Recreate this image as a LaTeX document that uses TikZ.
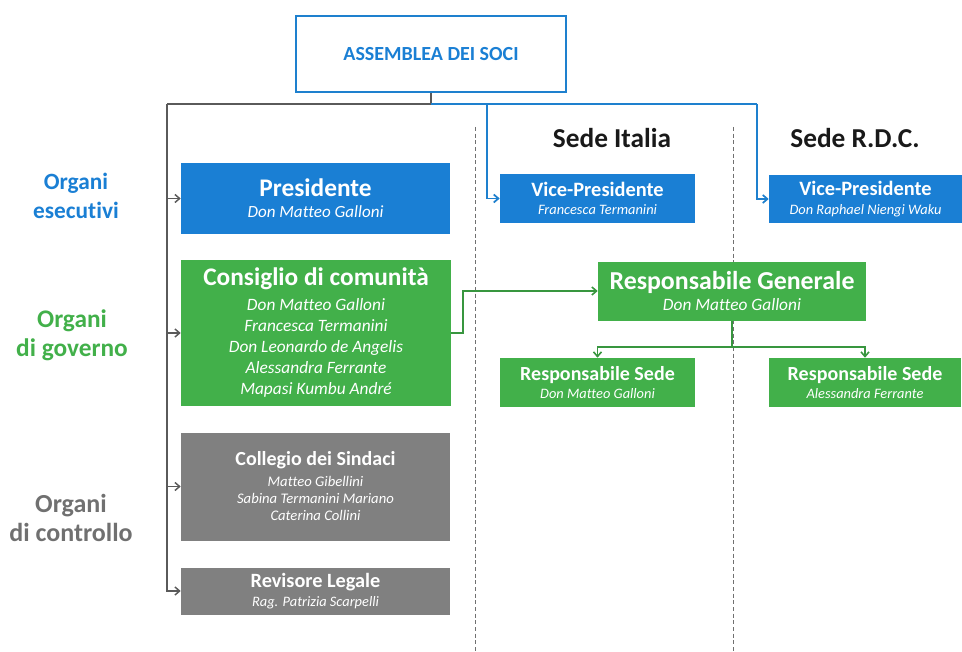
\documentclass[tikz,border=0pt]{standalone}
\usepackage{fontspec}
\setmainfont{Carlito}[Ligatures={TeX,NoCommon}]
\usepackage{xcolor}
\usepackage{tikz}
\usetikzlibrary{arrows.meta}

\definecolor{bluefill}{RGB}{26,127,212}
\definecolor{blueline}{RGB}{30,128,206}
\definecolor{greenfill}{RGB}{66,176,74}
\definecolor{grayfill}{RGB}{128,128,128}
\definecolor{grayline}{RGB}{90,90,90}
\definecolor{graytext}{RGB}{112,112,112}

\newcommand{\fsz}[2]{\fontsize{#1}{#2}\selectfont}
\newcommand{\boxtitle}[2]{{\fontsize{#1}{#1}\selectfont\bfseries\upshape #2}}

\begin{document}
\begin{tikzpicture}[
      x=0.75pt, y=-0.75pt,
      box/.style={
        rectangle,
        inner sep=0pt,
        align=center,
        text=white
      },
      bluebox/.style={box, fill=bluefill},
      greenbox/.style={box, fill=greenfill},
      graybox/.style={box, fill=grayfill},
      grayarrow/.style={draw=grayline, line width=1.1pt, -{Straight Barb[length=3.5pt,width=6pt]}},
      bluearrow/.style={draw=blueline, line width=1.3pt, -{Straight Barb[length=3.5pt,width=6pt]}},
      greenarrow/.style={draw=greenfill!85!black, line width=1.2pt, -{Straight Barb[length=3.5pt,width=6pt]}},
      sede/.style={font=\fsz{20.5}{24}\bfseries, text=black!90},
      organi/.style={align=center}
      ]
        \useasboundingbox (0,0) rectangle (962,652);

        % Assemblea
        \node[draw=blueline, line width=1.5pt, fill=white, minimum width=202.5pt, minimum height=57pt,
              text=bluefill, font=\fsz{15}{18}\bfseries] (assemblea) at (431,54) {ASSEMBLEA DEI SOCI};

        % sedi
        \draw[graytext, line width=0.7pt, dash pattern=on 3pt off 2pt] (475,127) -- (475,652);
        \draw[graytext, line width=0.7pt, dash pattern=on 3pt off 2pt] (733,127) -- (733,652);
        \node[sede] (italia) at (612,138) {Sede Italia};
        \node[sede] (rdc) at (855,138) {Sede R.D.C.};

        % organi
        \node[organi, text=bluefill, font=\fsz{17.5}{21.75}\bfseries] (esecutivi) at (76,196) {Organi\\esecutivi};
        \node[organi, text=greenfill, font=\fsz{19}{21.75}\bfseries] (governo) at (72,335) {Organi\\di governo};
        \node[organi, text=graytext, font=\fsz{19.5}{21.75}\bfseries] (controllo) at (71,518) {Organi\\di controllo};

        % organi esecutivi
        \node[bluebox, minimum width=201.75pt, minimum height=53.25pt, font=\fsz{12.8}{16}\itshape] (pres) at (315.5,198.5)
            {\boxtitle{19}{Presidente}\\Don Matteo Galloni};
        \node[bluebox, minimum width=146.25pt, minimum height=36pt, font=\fsz{10.8}{14}\itshape] (vp1) at (597.5,198.5)
            {\boxtitle{15.3}{Vice-Presidente}\\Francesca Termanini};
        \node[bluebox, minimum width=144.75pt, minimum height=36pt, font=\fsz{10.8}{14}\itshape] (vp2) at (865.5,199)
            {\boxtitle{15.3}{Vice-Presidente}\\Don Raphael Niengi Waku};

        % organi di governo
        \node[greenbox, minimum width=202.5pt, minimum height=109.5pt, font=\fsz{13}{15.75}\itshape] (cons) at (316,333)
            {\boxtitle{19}{Consiglio di comunità}\\[3pt]
             Don Matteo Galloni\\
             Francesca Termanini\\
             Don Leonardo de Angelis\\
             Alessandra Ferrante\\
             Mapasi Kumbu André};
        \node[greenbox, minimum width=201pt, minimum height=44.25pt, font=\fsz{13}{16}\itshape] (rg) at (732,291)
            {\boxtitle{19.4}{Responsabile Generale}\\Don Matteo Galloni};
        \node[greenbox, minimum width=146.25pt, minimum height=36.75pt, font=\fsz{10.8}{14}\itshape] (rs1) at (597.5,382.5)
            {\boxtitle{15}{Responsabile Sede}\\Don Matteo Galloni};
        \node[greenbox, minimum width=144pt, minimum height=36.75pt, font=\fsz{10.8}{14}\itshape] (rs2) at (865,382.5)
            {\boxtitle{15}{Responsabile Sede}\\Alessandra Ferrante};

        % organi di controllo
        \node[graybox, minimum width=201.75pt, minimum height=81pt, font=\fsz{11}{12.75}\itshape] (coll) at (315.5,486.5)
            {\boxtitle{15}{Collegio dei Sindaci}\\[3pt]
             Matteo Gibellini\\
             Sabina Termanini Mariano\\
             Caterina Collini};
        \node[graybox, minimum width=201.75pt, minimum height=35.25pt, font=\fsz{10.8}{14}\itshape] (rev) at (315.5,591)
            {\boxtitle{15.2}{Revisore Legale}\\Rag. Patrizia Scarpelli};

        % collegamenti
        \coordinate (split) at (431,104);
        \coordinate (ltop) at (167,104);
        \coordinate (bsplit1) at (487,104);
        \coordinate (bsplit2) at (757,104);
        \draw[grayline, line width=1.1pt] (assemblea.south) -- (split) -- (ltop);
        \draw[grayarrow] (ltop) |- (pres.west);
        \draw[grayarrow] (ltop) |- (cons.west);
        \draw[grayarrow] (ltop) |- (coll.west);
        \draw[grayarrow] (ltop) |- (rev.west);
        \draw[blueline, line width=1.3pt] (split) -- (bsplit2);
        \draw[bluearrow] (bsplit1) |- (vp1.west);
        \draw[bluearrow] (bsplit2) |- (vp2.west);
        \draw[greenarrow] (cons.east) -- ++(12,0) |- (rg.west);
        \draw[greenfill!85!black, line width=1.2pt] (rg.south) -- ++(0,26.5) coordinate (gsplit);
        \draw[greenarrow] (gsplit) -| (rs1.north);
        \draw[greenarrow] (gsplit) -| (rs2.north);
    \end{tikzpicture}
\end{document}
